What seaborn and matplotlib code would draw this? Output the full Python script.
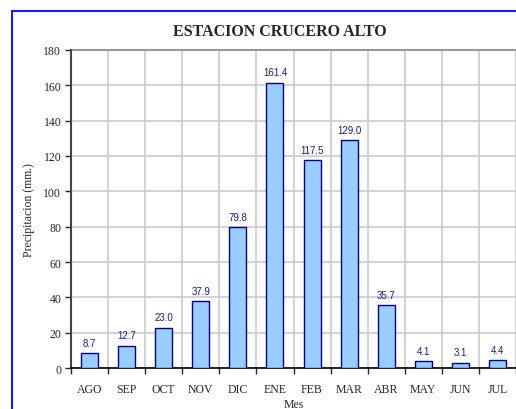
import numpy as np
import pandas as pd
import matplotlib
matplotlib.use('Agg')
import matplotlib.pyplot as plt
import seaborn as sns
from matplotlib.patches import Rectangle

# Data
meses = ['AGO', 'SEP', 'OCT', 'NOV', 'DIC', 'ENE', 'FEB', 'MAR', 'ABR', 'MAY', 'JUN', 'JUL']
precip = [8.7, 12.7, 23.0, 37.9, 79.8, 161.4, 117.5, 129.0, 35.7, 4.1, 3.1, 4.4]
df = pd.DataFrame({'Mes': meses, 'Precipitacion': precip})

sns.set_style('white')
plt.rcParams['font.family'] = ['Liberation Serif', 'DejaVu Serif']

fig = plt.figure(figsize=(5.16, 4.10), dpi=100)
ax = fig.add_axes([0.1376, 0.0995, 0.8624, 0.7766])

sns.barplot(data=df, x='Mes', y='Precipitacion', color='#99CCFF', width=0.46,
            edgecolor='#000080', linewidth=1.0, saturation=1, ax=ax, zorder=3)

# Data labels
for i, v in enumerate(precip):
    ax.text(i, v + 3, f'{v:.1f}', ha='center', va='bottom', fontsize=7,
            color='#1a1a8c', family=['Liberation Sans', 'DejaVu Sans'])

ax.set_ylim(0, 180)
ax.set_xlim(-0.5, 11.5)
ax.set_yticks(np.arange(0, 181, 20))
ax.set_xticks(np.arange(-0.5, 12, 1), minor=True)
ax.tick_params(axis='x', which='major', length=0, labelsize=8.5, pad=11)
ax.tick_params(axis='x', which='minor', length=4, width=1, direction='out', bottom=True)
ax.tick_params(axis='y', length=4, width=1, direction='out', left=True, labelsize=8.5, pad=3)

ax.grid(axis='y', color='#cccccc', linewidth=1.2, zorder=0)
ax.grid(axis='x', which='minor', color='#cccccc', linewidth=1.2, zorder=0)
ax.set_axisbelow(True)

for s in ['top', 'right']:
    ax.spines[s].set_visible(False)
ax.spines['left'].set_color('#444444')
ax.spines['left'].set_linewidth(1.5)
ax.spines['bottom'].set_color('black')
ax.spines['bottom'].set_linewidth(1.2)
ax.axhline(180, color='#999999', linewidth=1.5, zorder=1, clip_on=False)

ax.set_xlabel('Mes', fontsize=8.5, labelpad=2)
ax.set_ylabel('Precipitacion (mm.)', fontsize=8.5, labelpad=6)
fig.text(0.5426, 1 - 32 / 410, 'ESTACION CRUCERO ALTO', ha='center', va='center',
         fontsize=11.5, fontweight='bold')

# Blue frame (partially outside the image)
fig.patches.append(Rectangle((12 / 516, -0.1), 2, 1 - 12 / 410 + 0.1,
                             transform=fig.transFigure, fill=False,
                             edgecolor='#1a1aff', linewidth=1.5, clip_on=False))

fig.savefig('out.png', dpi=100)
